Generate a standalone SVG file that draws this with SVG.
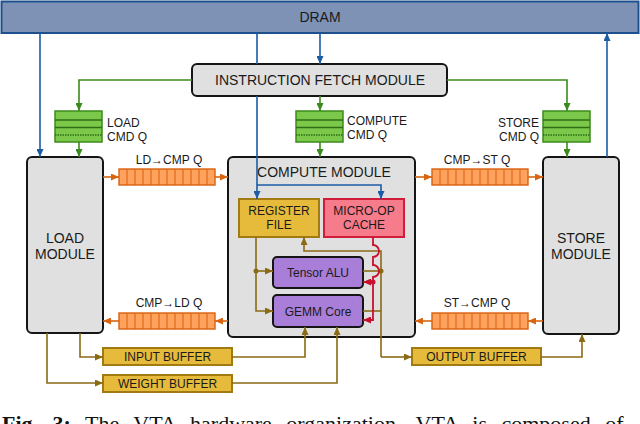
<svg xmlns="http://www.w3.org/2000/svg" width="640" height="424" viewBox="0 0 640 424">
<style>
text{font-family:"Liberation Sans",Arial,sans-serif;fill:#1a1a1a;text-anchor:middle}
.mod{fill:#e0e0e0;stroke:#151515;stroke-width:2}
.t14{font-size:14px}
.t12{font-size:12px}
.stk{fill:#7cc84a;stroke:#3c8a1c;stroke-width:1.5}
.sep{stroke:#2f6e14;stroke-width:1.3}
.q{fill:#ffa25e;stroke:#d8600e;stroke-width:1.4}
.qc{stroke:#d8600e;stroke-width:1}
.gold{fill:#e6ba3a;stroke:#a27a12;stroke-width:2}
.pur{fill:#a87ed8;stroke:#151515;stroke-width:2}
.bl{fill:none;stroke:#1b5ca5;stroke-width:1.6}
.gr{fill:none;stroke:#3b8a1c;stroke-width:1.6}
.or{fill:none;stroke:#d9640f;stroke-width:1.6}
.br{fill:none;stroke:#8a6a14;stroke-width:1.6}
.rd{fill:none;stroke:#c8102e;stroke-width:1.8}
.cap{font-family:"Liberation Serif","Times New Roman",serif;font-size:22px;text-anchor:start;fill:#111}
</style>
<defs>
<marker id="ab" markerWidth="8" markerHeight="7" refX="8" refY="3.5" orient="auto" markerUnits="userSpaceOnUse"><path d="M0,0 L8,3.5 L0,7 z" fill="#1b5ca5"/></marker>
<marker id="ag" markerWidth="8" markerHeight="7" refX="8" refY="3.5" orient="auto" markerUnits="userSpaceOnUse"><path d="M0,0 L8,3.5 L0,7 z" fill="#3b8a1c"/></marker>
<marker id="ao" markerWidth="8" markerHeight="7" refX="8" refY="3.5" orient="auto" markerUnits="userSpaceOnUse"><path d="M0,0 L8,3.5 L0,7 z" fill="#d9640f"/></marker>
<marker id="abr" markerWidth="8" markerHeight="7" refX="8" refY="3.5" orient="auto" markerUnits="userSpaceOnUse"><path d="M0,0 L8,3.5 L0,7 z" fill="#8a6a14"/></marker>
<marker id="ar" markerWidth="8" markerHeight="7" refX="8" refY="3.5" orient="auto" markerUnits="userSpaceOnUse"><path d="M0,0 L8,3.5 L0,7 z" fill="#c8102e"/></marker>
<g id="stack">
<rect class="stk" x="0" y="0" width="47" height="31"/>
<line class="sep" x1="0" y1="9" x2="47" y2="9"/>
<line class="sep" x1="0" y1="16.5" x2="47" y2="16.5"/>
<line class="sep" x1="0" y1="24" x2="47" y2="24" stroke-dasharray="1.5,1"/>
</g>
<g id="queue">
<rect class="q" x="0" y="0" width="96" height="16"/>
<path class="qc" d="M8,0V16M16,0V16M24,0V16M32,0V16M40,0V16M48,0V16M56,0V16M64,0V16M72,0V16M80,0V16M88,0V16"/>
</g>
</defs>

<g id="dram">
<rect x="1.5" y="1.5" width="637" height="31.5" fill="#7e92b6" stroke="#1e508e" stroke-width="2"/>
<text class="t14" x="320" y="22">DRAM</text>
</g>

<g id="ifm">
<rect class="mod" x="192" y="64" width="255" height="32" rx="5"/>
<text class="t14" x="320" y="85">INSTRUCTION FETCH MODULE</text>
</g>

<g id="load-cmd-q">
<use href="#stack" x="55" y="111"/>
<text class="t12" x="107" y="127" style="text-anchor:start">LOAD</text>
<text class="t12" x="107" y="141" style="text-anchor:start">CMD Q</text>
</g>
<g id="compute-cmd-q">
<use href="#stack" x="296" y="111"/>
<text class="t12" x="347" y="125" style="text-anchor:start">COMPUTE</text>
<text class="t12" x="347" y="139" style="text-anchor:start">CMD Q</text>
</g>
<g id="store-cmd-q">
<use href="#stack" x="543" y="111"/>
<text class="t12" x="539" y="127" style="text-anchor:end">STORE</text>
<text class="t12" x="539" y="141" style="text-anchor:end">CMD Q</text>
</g>

<g id="load-module">
<rect class="mod" x="27" y="157" width="76" height="176" rx="5"/>
<text class="t14" x="65" y="243">LOAD</text>
<text class="t14" x="65" y="259">MODULE</text>
</g>

<g id="store-module">
<rect class="mod" x="543" y="157" width="76" height="177" rx="5"/>
<text class="t14" x="581" y="243">STORE</text>
<text class="t14" x="581" y="259">MODULE</text>
</g>

<g id="compute-module">
<rect class="mod" x="228" y="157" width="187" height="180" rx="5"/>
<text class="t14" x="324" y="177">COMPUTE MODULE</text>
</g>

<g id="register-file">
<rect class="gold" x="239" y="199" width="80" height="38"/>
<text class="t12" x="279" y="215">REGISTER</text>
<text class="t12" x="279" y="229">FILE</text>
</g>
<g id="micro-op-cache">
<rect x="324" y="199" width="80" height="38" fill="#f67b8b" stroke="#d11d3b" stroke-width="2"/>
<text class="t12" x="364" y="215">MICRO-OP</text>
<text class="t12" x="364" y="229">CACHE</text>
</g>
<g id="tensor-alu">
<rect class="pur" x="273" y="257" width="90" height="31" rx="4"/>
<text class="t12" x="318" y="277">Tensor ALU</text>
</g>
<g id="gemm-core">
<rect class="pur" x="273" y="295" width="90" height="32" rx="4"/>
<text class="t12" x="318" y="316">GEMM Core</text>
</g>

<g id="ld-cmp-q">
<use href="#queue" x="119" y="169"/>
<text class="t12" x="169" y="164">LD→CMP Q</text>
</g>
<g id="cmp-st-q">
<use href="#queue" x="432" y="169"/>
<text class="t12" x="477" y="164">CMP→ST Q</text>
</g>
<g id="cmp-ld-q">
<use href="#queue" x="119" y="313"/>
<text class="t12" x="169" y="307">CMP→LD Q</text>
</g>
<g id="st-cmp-q">
<use href="#queue" x="432" y="313"/>
<text class="t12" x="477" y="307">ST→CMP Q</text>
</g>

<g id="input-buffer">
<rect class="gold" x="103" y="348" width="129" height="17"/>
<text class="t12" x="167.5" y="361">INPUT BUFFER</text>
</g>
<g id="weight-buffer">
<rect class="gold" x="103" y="375" width="129" height="17"/>
<text class="t12" x="167.5" y="388">WEIGHT BUFFER</text>
</g>
<g id="output-buffer">
<rect class="gold" x="412" y="348" width="129" height="17"/>
<text class="t12" x="476.5" y="361">OUTPUT BUFFER</text>
</g>

<g id="connectors">
<path class="bl" d="M40,33V157" marker-end="url(#ab)"/>
<path class="bl" d="M257,33V64"/>
<path class="bl" d="M257,96V199" marker-end="url(#ab)"/>
<path class="bl" d="M257,185H381V199" marker-end="url(#ab)"/>
<path class="bl" d="M320,33V64" marker-end="url(#ab)"/>
<path class="bl" d="M607,157V33" marker-end="url(#ab)"/>

<path class="gr" d="M192,80H79V111" marker-end="url(#ag)"/>
<path class="gr" d="M79,142V157" marker-end="url(#ag)"/>
<path class="gr" d="M320,96V111" marker-end="url(#ag)"/>
<path class="gr" d="M320,142V157" marker-end="url(#ag)"/>
<path class="gr" d="M447,80H567V111" marker-end="url(#ag)"/>
<path class="gr" d="M567,142V157" marker-end="url(#ag)"/>

<path class="or" d="M103,177H119" marker-end="url(#ao)"/>
<path class="or" d="M215,177H228" marker-end="url(#ao)"/>
<path class="or" d="M415,177H432" marker-end="url(#ao)"/>
<path class="or" d="M528,177H543" marker-end="url(#ao)"/>
<path class="or" d="M228,321H215" marker-end="url(#ao)"/>
<path class="or" d="M119,321H103" marker-end="url(#ao)"/>
<path class="or" d="M543,321H528" marker-end="url(#ao)"/>
<path class="or" d="M432,321H415" marker-end="url(#ao)"/>

<path class="br" d="M256,237V311H273" marker-end="url(#abr)"/>
<path class="br" d="M256,271H273" marker-end="url(#abr)"/>
<circle cx="256" cy="271" r="2.5" fill="#8a6a14"/>
<path class="br" d="M363,271H381"/>
<path class="br" d="M363,311H381"/>
<circle cx="381" cy="271" r="2.5" fill="#8a6a14"/>
<path class="br" d="M381,357V251H304V237" marker-end="url(#abr)"/>
<path class="br" d="M381,357H412" marker-end="url(#abr)"/>
<path class="br" d="M80,333V357H103" marker-end="url(#abr)"/>
<path class="br" d="M47,333V383H103" marker-end="url(#abr)"/>
<path class="br" d="M232,357H305V327" marker-end="url(#abr)"/>
<path class="br" d="M232,383H337V327" marker-end="url(#abr)"/>
<path class="br" d="M541,357H582V334" marker-end="url(#abr)"/>

<path class="rd" d="M373,237V245a6,6 0 0 1 0,12V265a6,6 0 0 1 0,12V320H363" marker-end="url(#ar)"/>
<path class="rd" d="M373,282H363" marker-end="url(#ar)"/>
<circle cx="373" cy="282" r="2.5" fill="#c8102e"/>
</g>

<text class="cap" x="2" y="431" word-spacing="9"><tspan font-weight="bold">Fig. 3:</tspan> The VTA hardware organization. VTA is composed of</text>
</svg>
